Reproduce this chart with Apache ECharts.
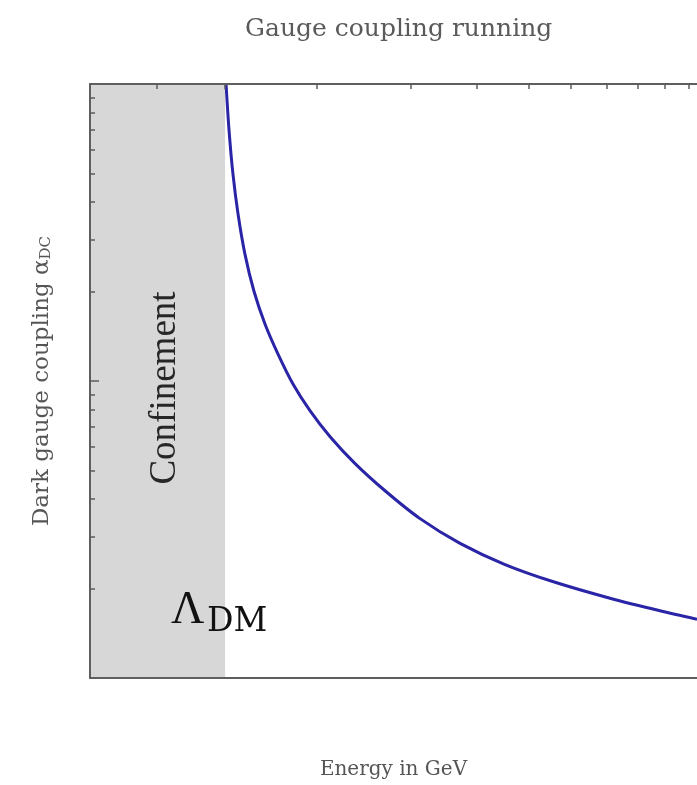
<!DOCTYPE html>
<html>
<head>
<meta charset="utf-8">
<script src="https://cdn.jsdelivr.net/npm/echarts@6/dist/echarts.min.js"></script>
<style>
html, body { margin: 0; padding: 0; background: #fff; }
#main { width: 697px; height: 785px; }
</style>
</head>
<body>
<div id="main"></div>
<script>
// energy (GeV, log axis) and coupling
var energy = [1.351, 1.368, 1.392, 1.423, 1.466, 1.524, 1.599, 1.691, 1.804, 1.943,
	2.118, 2.360, 2.686, 3.125, 3.715, 4.513, 5.603, 7.106, 8.821, 10.35];
var coupling = [9.92, 7.01, 4.95, 3.634, 2.668, 2.005, 1.553, 1.232, 0.977, 0.793,
	0.649, 0.527, 0.427, 0.344, 0.284, 0.241, 0.210, 0.1856, 0.1684, 0.1578];
var lambdaDM = 1.345;   // confinement scale
var xRange = [0.75, 10.35];
var yRange = [0.1, 10];
var xTicks = [1, 1.345, 2, 3, 4, 5, 6, 7, 8, 9, 10];
var yTicks = [0.2, 0.3, 0.4, 0.5, 0.6, 0.7, 0.8, 0.9, 2, 3, 4, 5, 6, 7, 8, 9];
var yMajor = [1];

var points = [];
for (var i = 0; i < energy.length; i++) {
	points.push([energy[i], coupling[i]]);
}

var frameColor = '#5e5e5e';
var serif = '"DejaVu Serif", "Liberation Serif", serif';

var myChart = echarts.init(document.getElementById('main'), null, { renderer: 'canvas' });
var option = {
	animation: false,
	backgroundColor: '#fff',
	title: {
		text: 'Gauge coupling running',
		left: 240,
		top: 12,
		textStyle: {
			fontFamily: serif,
			fontSize: 25,
			fontWeight: 'normal',
			color: '#5a5a5a'
		}
	},
	grid: { left: 90, top: 84, right: 0, bottom: 105 },
	xAxis: [{
		type: 'log',
		logBase: 10,
		min: xRange[0],
		max: xRange[1],
		position: 'bottom',
		z: 10,
		name: 'Energy in GeV',
		nameLocation: 'middle',
		nameGap: 82,
		nameTextStyle: { fontFamily: serif, fontSize: 20, color: '#555' },
		axisLine: { show: true, lineStyle: { color: frameColor, width: 2 } },
		axisTick: { show: false },
		axisLabel: { show: false },
		splitLine: { show: false }
	}, {
		type: 'log',
		logBase: 10,
		min: xRange[0],
		max: xRange[1],
		position: 'top',
		z: 10,
		axisLine: { show: true, lineStyle: { color: frameColor, width: 2 } },
		axisTick: { show: true, inside: true, length: 5, customValues: xTicks,
			lineStyle: { color: frameColor, width: 1.5 } },
		axisLabel: { show: false },
		splitLine: { show: false }
	}],
	yAxis: [{
		type: 'log',
		logBase: 10,
		min: yRange[0],
		max: yRange[1],
		position: 'left',
		z: 10,
		name: '{a|Dark gauge coupling α}{b|DC}',
		nameLocation: 'middle',
		nameGap: 36,
		nameRotate: 90,
		nameTextStyle: {
			rich: {
				a: { fontFamily: serif, fontSize: 23, color: '#555' },
				b: { fontFamily: serif, fontSize: 15, color: '#555', padding: [8, 0, 0, 0] }
			}
		},
		axisLine: { show: true, lineStyle: { color: frameColor, width: 2 } },
		axisTick: { show: true, inside: true, length: 5, customValues: yTicks,
			lineStyle: { color: frameColor, width: 1.5 } },
		axisLabel: { show: false },
		splitLine: { show: false }
	}, {
		type: 'log',
		logBase: 10,
		min: yRange[0],
		max: yRange[1],
		position: 'left',
		z: 10,
		axisLine: { show: false },
		axisTick: { show: true, inside: true, length: 9, customValues: yMajor,
			lineStyle: { color: frameColor, width: 1.5 } },
		axisLabel: { show: false },
		splitLine: { show: false }
	}],
	series: [{
		type: 'line',
		xAxisIndex: 0,
		yAxisIndex: 0,
		data: points,
		smooth: 0.3,
		showSymbol: false,
		symbol: 'none',
		clip: true,
		lineStyle: { color: '#2a24a6', width: 3 },
		markArea: {
			silent: true,
			itemStyle: { color: '#d7d7d7' },
			label: {
				show: true,
				position: 'inside',
				rotate: 90,
				offset: [-7, 8],
				fontFamily: '"Liberation Serif", serif',
				fontSize: 37,
				color: '#262626'
			},
			data: [[{ name: 'Confinement', xAxis: xRange[0] }, { xAxis: lambdaDM }]]
		},
		z: 3
	}],
	graphic: [{
		type: 'text',
		left: 171,
		top: 588,
		style: {
			text: 'Λ',
			font: '46px "Liberation Serif", serif',
			fill: '#111'
		},
		z: 10
	}, {
		type: 'text',
		left: 207,
		top: 606,
		style: {
			text: 'DM',
			font: '33px "DejaVu Serif", serif',
			fill: '#111'
		},
		z: 10
	}]
};
myChart.setOption(option);
</script>
</body>
</html>
